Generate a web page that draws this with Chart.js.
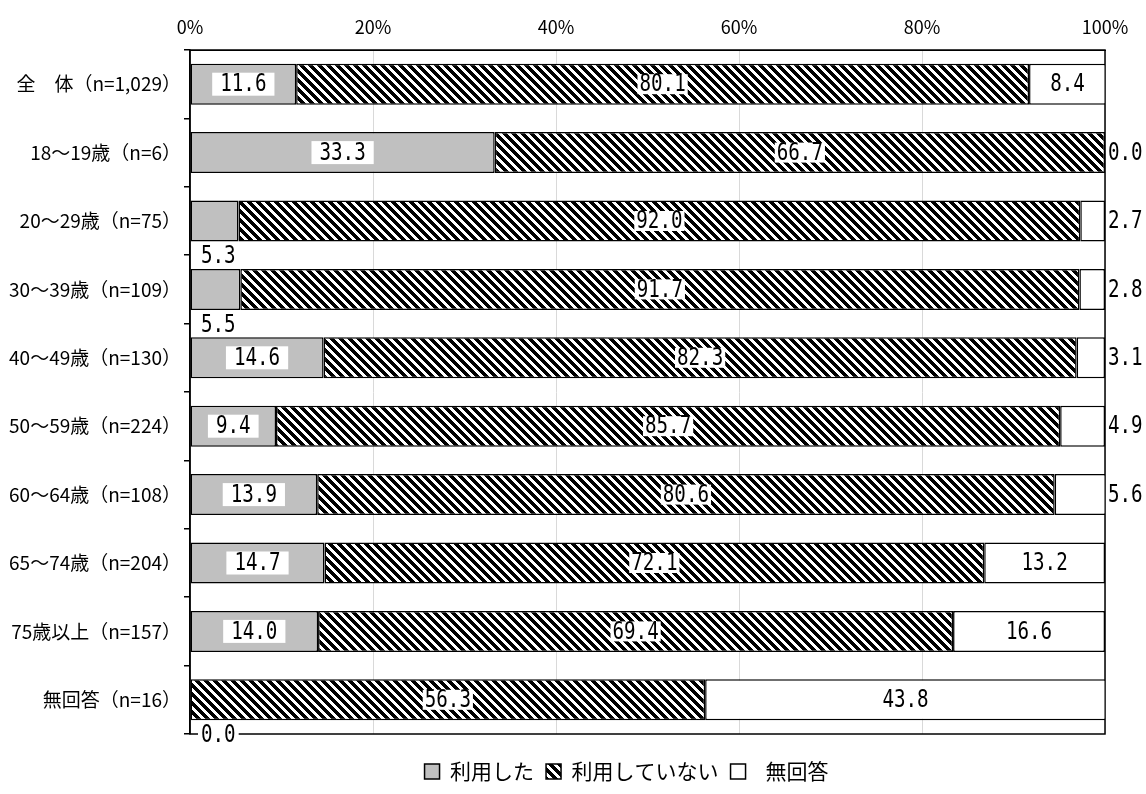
<!DOCTYPE html>
<html lang="ja">
<head>
<meta charset="utf-8">
<title>利用状況</title>
<script src="https://cdn.jsdelivr.net/npm/chart.js@4.4.0/dist/chart.umd.min.js"></script>
<style>
body{margin:0;background:#fff;}
#wrap{width:1146px;height:794px;}
</style>
</head>
<body>
<div id="wrap"><canvas id="myChart"></canvas></div>
<script>
// data
var categories = ["全　体（n=1,029）","18～19歳（n=6）","20～29歳（n=75）","30～39歳（n=109）","40～49歳（n=130）","50～59歳（n=224）","60～64歳（n=108）","65～74歳（n=204）","75歳以上（n=157）","無回答（n=16）"];
var used = [11.6,33.3,5.3,5.5,14.6,9.4,13.9,14.7,14.0,0.0];
var notUsed = [80.1,66.7,92.0,91.7,82.3,85.7,80.6,72.1,69.4,56.3];
var noAnswer = [8.4,0.0,2.7,2.8,3.1,4.9,5.6,13.2,16.6,43.8];
var seriesNames = ["利用した","利用していない","  無回答　　"];
var xTicks = [0,20,40,60,80,100];

var jpFont = "'Noto Sans CJK JP', sans-serif";
var numFont = "'DejaVu Sans Mono', monospace";

var canvas = document.getElementById("myChart");
var ctx = canvas.getContext("2d");

// black/white diagonal hatch
function makeStripe(){
    var c = document.createElement("canvas");
    c.width = 9; c.height = 9;
    var g = c.getContext("2d");
    g.fillStyle = "#fff";
    g.fillRect(0,0,9,9);
    g.fillStyle = "#000";
    for (var y = 0; y < 9; y++) {
        for (var x = 0; x < 9; x++) {
            if (((x - y) % 9 + 9) % 9 < 5) g.fillRect(x,y,1,1);
        }
    }
    return ctx.createPattern(c,"repeat");
}
var stripe = makeStripe();

var framePlugin = {
    id: "frame",
    beforeDatasetsDraw: function(chart){
        var a = chart.chartArea, c = chart.ctx;
        c.save();
        c.strokeStyle = "#000";
        c.lineWidth = 1.5;
        c.strokeRect(a.left, a.top, a.right - a.left, a.bottom - a.top);
        c.restore();
    }
};

// value labels, narrow text (squeezed 0.8 wide)
var SQ = 0.8;
var labelPlugin = {
    id: "barLabels",
    afterDatasetsDraw: function(chart){
        var c = chart.ctx, area = chart.chartArea;
        c.save();
        c.font = "24px " + numFont;
        c.textBaseline = "middle";
        chart.data.datasets.forEach(function(ds, i){
            var meta = chart.getDatasetMeta(i);
            meta.data.forEach(function(bar, j){
                var v = ds.data[j];
                var p = bar.getProps(["x","y","base","height"], true);
                var txt = v.toFixed(1);
                var w = c.measureText(txt).width * SQ;
                var cx = (p.x + p.base) / 2, cy = p.y;
                var left = cx - w/2;
                var box = null;
                if (i == 0) {
                    if (v >= 8) {
                        box = [left - 8, cy - 11.5, w + 16, 23];
                    } else {
                        left = area.left + 11;
                        cy = p.y + p.height/2 + 14.5;
                        box = [left - 3, cy - 11, w + 6, 22];
                    }
                } else if (i == 1) {
                    box = [left - 2, cy - 10, w + 4, 20];
                } else {
                    if (v < 7) { left = area.right + 3; }
                }
                if (box) {
                    c.fillStyle = "#fff";
                    c.fillRect(box[0], box[1], box[2], box[3]);
                }
                c.save();
                c.translate(left, cy + 1);
                c.scale(SQ, 1);
                c.fillStyle = "#000";
                c.textAlign = "left";
                c.fillText(txt, 0, 0);
                c.restore();
            });
        });
        c.restore();
    }
};

var myChart = new Chart(ctx, {
    type: "bar",
    data: {
        labels: categories,
        datasets: [
            {label: seriesNames[0], data: used, backgroundColor: "#c0c0c0", borderColor: "#000", borderWidth: 1.5, borderSkipped: false},
            {label: seriesNames[1], data: notUsed, backgroundColor: stripe, borderColor: "#000", borderWidth: 1.5, borderSkipped: false},
            {label: seriesNames[2], data: noAnswer, backgroundColor: "#fff", borderColor: "#000", borderWidth: 1.5, borderSkipped: false}
        ]
    },
    options: {
        indexAxis: "y",
        responsive: true,
        maintainAspectRatio: false,
        animation: false,
        layout: {padding: {left: 8, right: 41, top: 0, bottom: 2}},
        datasets: {bar: {barPercentage: 0.6, categoryPercentage: 1}},
        scales: {
            x: {
                stacked: true,
                position: "top",
                min: 0,
                max: 100,
                afterFit: function(s){ s.height = 50; },
                afterBuildTicks: function(s){ s.ticks = xTicks.map(function(v){ return {value: v}; }); },
                grid: {color: "#d9d9d9", drawTicks: false},
                border: {display: true, color: "#000"},
                ticks: {
                    padding: 12,
                    color: "#000",
                    font: {family: jpFont, size: 18},
                    callback: function(v){ return v + "%"; }
                }
            },
            y: {
                stacked: true,
                afterFit: function(s){ s.width = 182; },
                grid: {drawOnChartArea: false, tickLength: 6, color: "#000", lineWidth: 1.5},
                border: {color: "#000", width: 1.5},
                ticks: {padding: 3, color: "#000", font: {family: jpFont, size: 19}}
            }
        },
        plugins: {
            legend: {
                position: "bottom",
                fullSize: false,
                title: {display: true, text: " ", font: {size: 15, lineHeight: 1}, padding: 0},
                labels: {
                    boxWidth: 15,
                    boxHeight: 15,
                    padding: 12,
                    color: "#000",
                    font: {family: jpFont, size: 21}
                }
            },
            tooltip: {enabled: false}
        }
    },
    plugins: [framePlugin, labelPlugin]
});
</script>
</body>
</html>
